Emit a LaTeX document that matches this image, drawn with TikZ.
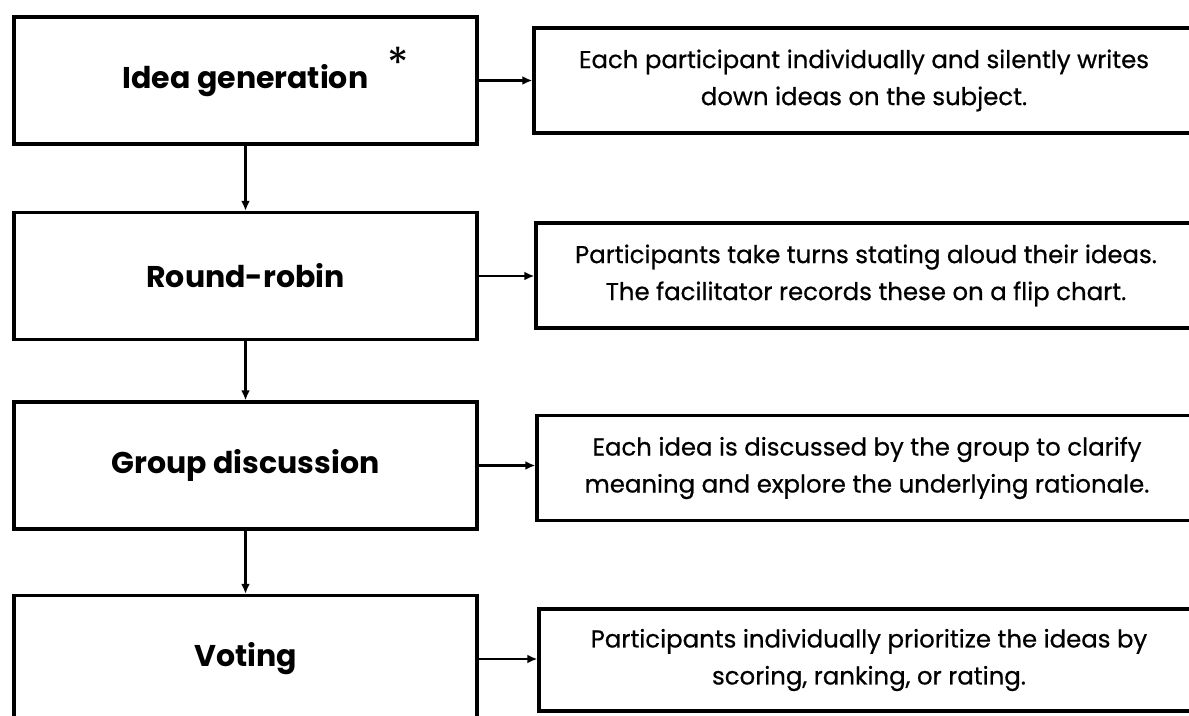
\documentclass[tikz,border=0pt]{standalone}
\usepackage{fontspec}
\setmainfont{Poppins}
\newfontfamily\descfont[FakeBold=0.6]{Poppins}
\usetikzlibrary{arrows.meta}
\begin{document}
\begin{tikzpicture}[x=0.5pt,y=-0.5pt,
  stagebox/.style={draw=black, line width=1.7pt, minimum width=231.5pt, minimum height=63.5pt,
    inner sep=0pt, font=\fontsize{15}{17}\selectfont\bfseries},
  descbox/.style={draw=black, line width=1.7pt, minimum width=330pt, minimum height=52.5pt,
    inner sep=0pt, align=center, font=\descfont\fontsize{12.2}{18.5}\selectfont},
  flow/.style={line width=1.1pt, -{Latex[length=5pt,width=4.5pt]}}]
\useasboundingbox (0,0) rectangle (1189,716);
\clip (0,0) rectangle (1189,716);
\fill[white] (0,0) rectangle (1189,716);
\node[stagebox] (L1) at (245.5,80.5) {Idea generation};
\node[stagebox] (L2) at (245.5,276) {Round-robin};
\node[stagebox] (L3) at (245.5,465.5) {Group discussion};
\node[stagebox] (L4) at (245.5,659) {Voting};
\node[font=\fontsize{22}{22}\selectfont] (ast) at (398,63) {*};
\node[descbox] (R1) at (864,80.5) {Each participant individually and silently writes\\down ideas on the subject.};
\node[descbox] (R2) at (866,275.5) {Participants take turns stating aloud their ideas.\\The facilitator records these on a flip chart.};
\node[descbox] (R3) at (867,468) {Each idea is discussed by the group to clarify\\meaning and explore the underlying rationale.};
\node[descbox, minimum height=51pt] (R4) at (869,660) {Participants individually prioritize the ideas by\\scoring, ranking, or rating.};
\draw[flow] (L1.south) -- (L2.north);
\draw[flow] (L2.south) -- (L3.north);
\draw[flow] (L3.south) -- (L4.north);
\draw[flow] (L1.east) -- (L1.east -| R1.west);
\draw[flow] (L2.east) -- (L2.east -| R2.west);
\draw[flow] (L3.east) -- (L3.east -| R3.west);
\draw[flow] (L4.east) -- (L4.east -| R4.west);
\end{tikzpicture}
\end{document}
